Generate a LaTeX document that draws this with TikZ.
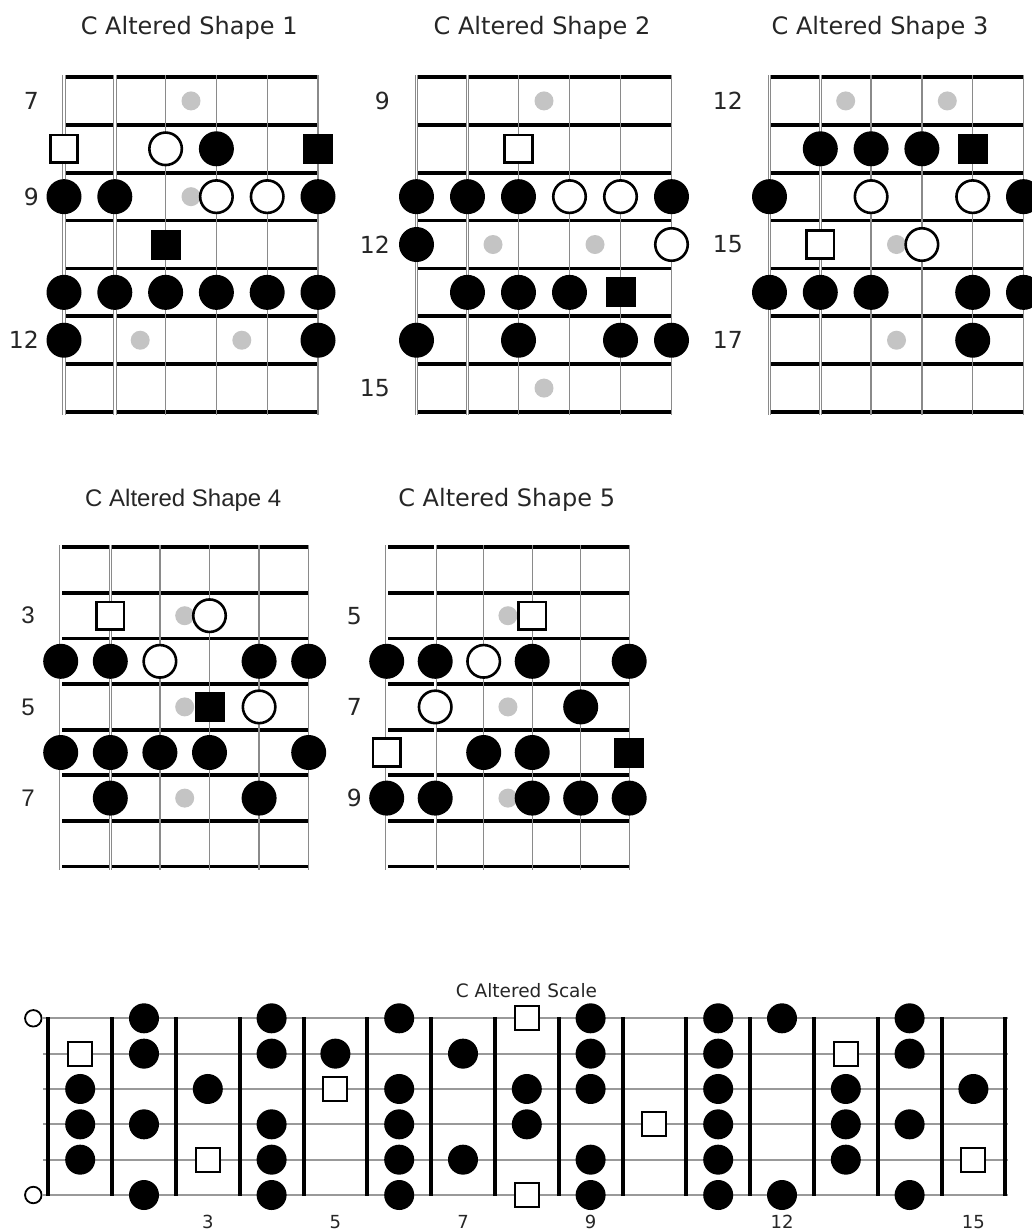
\documentclass[tikz,border=0pt]{standalone}
\usepackage{fontspec}
\setmainfont{DejaVu Sans}
\newfontfamily\arialfont{Liberation Sans}
\definecolor{strgray}{HTML}{8A8A8A}
\definecolor{inlaygray}{HTML}{C4C4C4}
\definecolor{txt}{HTML}{262626}
\tikzset{
 fret/.style={line width=3.8pt, draw=black},
 fatstr/.style={draw=strgray, line width=0.9pt, double=white, double distance=1.6pt},
 thinstr/.style={draw=strgray, line width=1.4pt},
 blk/.style={circle, fill=black, minimum size=35pt, inner sep=0pt},
 wht/.style={circle, draw=black, fill=white, line width=2.6pt, minimum size=32.5pt, inner sep=0pt},
 bsq/.style={rectangle, fill=black, minimum size=30pt, inner sep=0pt},
 wsq/.style={rectangle, draw=black, fill=white, line width=2.6pt, minimum size=27.5pt, inner sep=0pt},
 inlay/.style={circle, fill=inlaygray, minimum size=19pt, inner sep=0pt},
 ttl/.style={font=\fontsize{24}{24}\selectfont, text=txt, inner sep=0pt, anchor=base},
 ttlb/.style={font=\arialfont\fontsize{24}{24}\selectfont, text=txt, inner sep=0pt, anchor=base},
 lab/.style={font=\fontsize{23.5}{23.5}\selectfont, text=txt, inner sep=0pt, anchor=east},
 labb/.style={font=\arialfont\fontsize{24}{24}\selectfont, text=txt, inner sep=0pt, anchor=east},
 bstr/.style={draw=black!40, line width=1.8pt},
 bfret/.style={line width=4pt, draw=black},
 bblk/.style={circle, fill=black, minimum size=30pt, inner sep=0pt},
 bwsq/.style={rectangle, draw=black, fill=white, line width=2pt, minimum size=24pt, inner sep=0pt},
 opn/.style={circle, draw=black, fill=white, line width=1.8pt, minimum size=16.5pt, inner sep=0pt},
 bttl/.style={font=\fontsize{18.5}{18.5}\selectfont, text=txt, inner sep=0pt, anchor=base},
 bnum/.style={font=\fontsize{18}{18}\selectfont, text=txt, inner sep=0pt, anchor=base},
}
\newcommand{\fgrid}{%
 \foreach \f in {0,...,7} \draw[fret] (0,\f) -- (5,\f);
 \foreach \s in {0,1} \draw[fatstr] ([yshift=2pt]\s,0) -- ([yshift=-3pt]\s,7);
 \foreach \s in {2,...,5} \draw[thinstr] ([yshift=2pt]\s,0) -- ([yshift=-3pt]\s,7);
}
\begin{document}
\begin{tikzpicture}[x=1pt,y=-1pt]
\useasboundingbox (0,0) rectangle (1032,1232);
\fill[white] (0,0) rectangle (1032,1232);

% ---------- Shape 1 ----------
\node[ttl] (T1) at (189.2,34) {C Altered Shape 1};
\begin{scope}[shift={(64pt,-77pt)}, x=50.8pt, y=-47.86pt]
 \fgrid
 \foreach \xx/\r [count=\i] in {2.5/1, 2.5/3, 1.5/6, 3.5/6} \node[inlay] (P1-i\i) at (\xx,\r-0.5) {};
 \foreach \s/\r/\ty in {1/2/wsq, 3/2/wht, 4/2/blk, 6/2/bsq,
   1/3/blk, 2/3/blk, 4/3/wht, 5/3/wht, 6/3/blk,
   3/4/bsq,
   1/5/blk, 2/5/blk, 3/5/blk, 4/5/blk, 5/5/blk, 6/5/blk,
   1/6/blk, 6/6/blk}
   \node[\ty] (P1-\s-\r) at (\s-1,\r-0.5) {};
 \node[lab] (P1-l7) at ([xshift=-25pt]0,0.5) {7};
 \node[lab] (P1-l9) at ([xshift=-25pt]0,2.5) {9};
 \node[lab] (P1-l12) at ([xshift=-25pt]0,5.5) {12};
\end{scope}

% ---------- Shape 2 ----------
\node[ttl] (T2) at (542,34) {C Altered Shape 2};
\begin{scope}[shift={(416.5pt,-77pt)}, x=51pt, y=-47.86pt]
 \fgrid
 \foreach \xx/\r [count=\i] in {2.5/1, 1.5/4, 3.5/4, 2.5/7} \node[inlay] (P2-i\i) at (\xx,\r-0.5) {};
 \foreach \s/\r/\ty in {3/2/wsq,
   1/3/blk, 2/3/blk, 3/3/blk, 4/3/wht, 5/3/wht, 6/3/blk,
   1/4/blk, 6/4/wht,
   2/5/blk, 3/5/blk, 4/5/blk, 5/5/bsq,
   1/6/blk, 3/6/blk, 5/6/blk, 6/6/blk}
   \node[\ty] (P2-\s-\r) at (\s-1,\r-0.5) {};
 \node[lab] (P2-l9) at ([xshift=-26.5pt]0,0.5) {9};
 \node[lab] (P2-l12) at ([xshift=-26.5pt]0,3.5) {12};
 \node[lab] (P2-l15) at ([xshift=-26.5pt]0,6.5) {15};
\end{scope}

% ---------- Shape 3 ----------
\node[ttl] (T3) at (880,34) {C Altered Shape 3};
\begin{scope}[shift={(769.5pt,-77pt)}, x=50.8pt, y=-47.86pt]
 \fgrid
 \foreach \xx/\r [count=\i] in {1.5/1, 3.5/1, 2.5/4, 2.5/6} \node[inlay] (P3-i\i) at (\xx,\r-0.5) {};
 \foreach \s/\r/\ty in {2/2/blk, 3/2/blk, 4/2/blk, 5/2/bsq,
   1/3/blk, 3/3/wht, 5/3/wht, 6/3/blk,
   2/4/wsq, 4/4/wht,
   1/5/blk, 2/5/blk, 3/5/blk, 5/5/blk, 6/5/blk,
   5/6/blk}
   \node[\ty] (P3-\s-\r) at (\s-1,\r-0.5) {};
 \node[lab] (P3-l12) at ([xshift=-26.5pt]0,0.5) {12};
 \node[lab] (P3-l15) at ([xshift=-26.5pt]0,3.5) {15};
 \node[lab] (P3-l17) at ([xshift=-26.5pt]0,5.5) {17};
\end{scope}

% ---------- Shape 4 ----------
\node[ttlb] (T4) at (183.3,506.7) {C Altered Shape 4};
\begin{scope}[shift={(60.7pt,-547.3pt)}, x=49.6pt, y=-45.6pt]
 \fgrid
 \foreach \xx/\r [count=\i] in {2.5/2, 2.5/4, 2.5/6} \node[inlay] (P4-i\i) at (\xx,\r-0.5) {};
 \foreach \s/\r/\ty in {2/2/wsq, 4/2/wht,
   1/3/blk, 2/3/blk, 3/3/wht, 5/3/blk, 6/3/blk,
   4/4/bsq, 5/4/wht,
   1/5/blk, 2/5/blk, 3/5/blk, 4/5/blk, 6/5/blk,
   2/6/blk, 5/6/blk}
   \node[\ty] (P4-\s-\r) at (\s-1,\r-0.5) {};
 \node[labb] (P4-l3) at ([xshift=-25.7pt]0,1.5) {3};
 \node[labb] (P4-l5) at ([xshift=-25.7pt]0,3.5) {5};
 \node[labb] (P4-l7) at ([xshift=-25.7pt]0,5.5) {7};
\end{scope}

% ---------- Shape 5 ----------
\node[ttl] (T5) at (506.7,506.7) {C Altered Shape 5};
\begin{scope}[shift={(386.7pt,-547.3pt)}, x=48.5pt, y=-45.6pt]
 \fgrid
 \foreach \xx/\r [count=\i] in {2.5/2, 2.5/4, 2.5/6} \node[inlay] (P5-i\i) at (\xx,\r-0.5) {};
 \foreach \s/\r/\ty in {4/2/wsq,
   1/3/blk, 2/3/blk, 3/3/wht, 4/3/blk, 6/3/blk,
   2/4/wht, 5/4/blk,
   1/5/wsq, 3/5/blk, 4/5/blk, 6/5/bsq,
   1/6/blk, 2/6/blk, 4/6/blk, 5/6/blk, 6/6/blk}
   \node[\ty] (P5-\s-\r) at (\s-1,\r-0.5) {};
 \node[lab] (P5-l5) at ([xshift=-24.7pt]0,1.5) {5};
 \node[lab] (P5-l7) at ([xshift=-24.7pt]0,3.5) {7};
 \node[lab] (P5-l9) at ([xshift=-24.7pt]0,5.5) {9};
\end{scope}

% ---------- Full scale ----------
\node[bttl] (T6) at (526.5,997) {C Altered Scale};
\begin{scope}[shift={(16.4pt,-1018.3pt)}, x=63.8pt, y=-35.34pt]
 \foreach \r in {0,...,5} \draw[bstr] ([xshift=-5.3pt]0.5,\r) -- ([xshift=2.5pt]15.5,\r);
 \foreach \k in {0,...,15} \draw[bfret] ([yshift=1pt]\k+0.5,0) -- ([yshift=-1pt]\k+0.5,5);
 \node[opn] (B-o1) at ([xshift=-15pt]0.5,0) {};
 \node[opn] (B-o6) at ([xshift=-15pt]0.5,5) {};
 \foreach \k/\r/\ty in {1/2/bwsq, 1/3/bblk, 1/4/bblk, 1/5/bblk,
   2/1/bblk, 2/2/bblk, 2/4/bblk, 2/6/bblk,
   3/3/bblk, 3/5/bwsq,
   4/1/bblk, 4/2/bblk, 4/4/bblk, 4/5/bblk, 4/6/bblk,
   5/2/bblk, 5/3/bwsq,
   6/1/bblk, 6/3/bblk, 6/4/bblk, 6/5/bblk, 6/6/bblk,
   7/2/bblk, 7/5/bblk,
   8/1/bwsq, 8/3/bblk, 8/4/bblk, 8/6/bwsq,
   9/1/bblk, 9/2/bblk, 9/3/bblk, 9/5/bblk, 9/6/bblk,
   10/4/bwsq,
   11/1/bblk, 11/2/bblk, 11/3/bblk, 11/4/bblk, 11/5/bblk, 11/6/bblk,
   12/1/bblk, 12/6/bblk,
   13/2/bwsq, 13/3/bblk, 13/4/bblk, 13/5/bblk,
   14/1/bblk, 14/2/bblk, 14/4/bblk, 14/6/bblk,
   15/3/bblk, 15/5/bwsq}
   \node[\ty] (B-\k-\r) at (\k,\r-1) {};
\end{scope}
\foreach \k/\xx in {3/207.8, 5/335.4, 7/463, 9/590.6, 12/782, 15/973.4}
  \node[bnum] (B-n\k) at (\xx,1228) {\k};
\end{tikzpicture}
\end{document}
